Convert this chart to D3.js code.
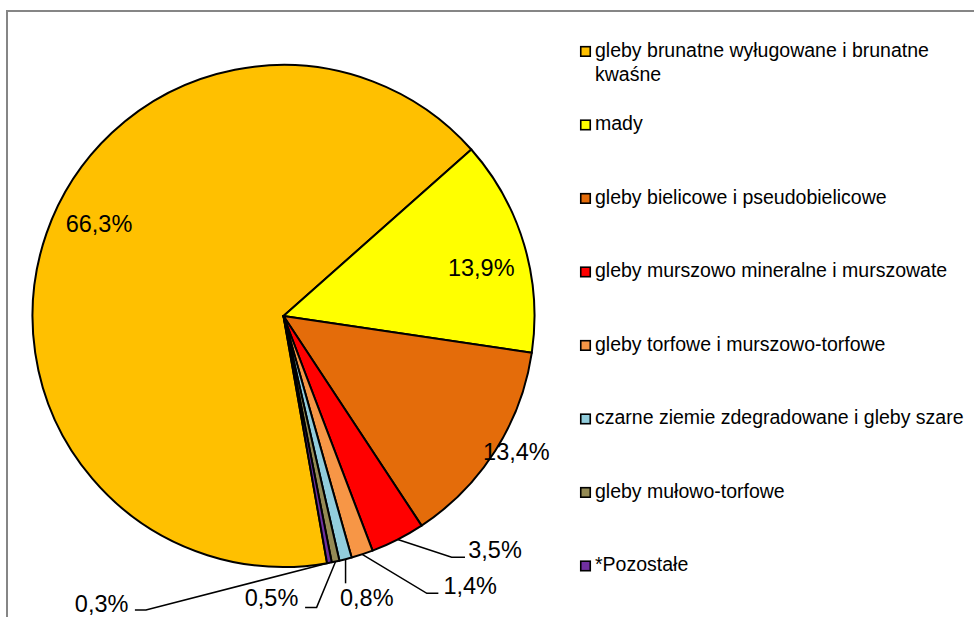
<!DOCTYPE html>
<html>
<head>
<meta charset="utf-8">
<script src="https://cdn.jsdelivr.net/npm/d3@7"></script>
<style>
html,body{margin:0;padding:0;background:#fff;}
svg{display:block;font-family:"Liberation Sans",Arial,sans-serif;}
</style>
</head>
<body>
<svg id="chart" width="974" height="617"></svg>
<script>
// ---- data ----
const categories = [
  "gleby brunatne wyługowane i brunatne kwaśne",
  "mady",
  "gleby bielicowe i pseudobielicowe",
  "gleby murszowo mineralne i murszowate",
  "gleby torfowe i murszowo-torfowe",
  "czarne ziemie zdegradowane i gleby szare",
  "gleby mułowo-torfowe",
  "*Pozostałe"
];
const values = [66.3, 13.9, 13.4, 3.5, 1.4, 0.8, 0.5, 0.3];
const colors = ["#FFC000", "#FFFF00", "#E46C0A", "#FF0000", "#F79646", "#92CDDC", "#948A54", "#7030A0"];
const firstSliceAngleDeg = 170;

// ---- layout (label placement in units of the pie radius, relative to centre) ----
const labelLayout = [
  {inside: true, text: [-0.735, -0.335]},
  {inside: true, text: [0.788, -0.159]},
  {inside: true, text: [0.928, 0.574]},
  {inside: false, text: [0.736, 0.965], anchor: "start", elbow: [0.670, 0.961], end: [0.723, 0.961]},
  {inside: false, text: [0.637, 1.108], anchor: "start", elbow: [0.571, 1.105], end: [0.617, 1.105]},
  {inside: false, text: [0.225, 1.155], anchor: "start", vertical: 1.065},
  {inside: false, text: [0.059, 1.155], anchor: "end", elbow: [0.132, 1.161], end: [0.086, 1.161]},
  {inside: false, text: [-0.618, 1.178], anchor: "end", elbow: [-0.548, 1.171], end: [-0.592, 1.171]}
];

const W = 974, H = 617;
const cx = 283.5, cy = 316, R = 251;
const svg = d3.select("#chart");

// frame
svg.append("rect")
  .attr("x", 7).attr("y", 11).attr("width", 1100).attr("height", 800)
  .attr("fill", "none").attr("stroke", "#868686").attr("stroke-width", 2);

const fmt = v => d3.format(".1f")(v).replace(".", ",") + "%";

const start = firstSliceAngleDeg * Math.PI / 180;
const pie = d3.pie().sort(null).value(d => d.value)
  .startAngle(start).endAngle(start + 2 * Math.PI);
const data = values.map((v, i) => ({value: v, name: categories[i], color: colors[i], layout: labelLayout[i]}));
const arcs = pie(data);
const arc = d3.arc().innerRadius(0).outerRadius(R);

const g = svg.append("g").attr("transform", `translate(${cx},${cy})`);

g.selectAll("path.slice").data(arcs).join("path")
  .attr("class", "slice")
  .attr("d", arc)
  .attr("fill", d => d.data.color)
  .attr("stroke", "#000")
  .attr("stroke-width", 2)
  .attr("stroke-linejoin", "round");

// leader lines
const lineGen = d3.line();
arcs.forEach(a => {
  const L = a.data.layout;
  if (L.inside) return;
  const mid = (a.startAngle + a.endAngle) / 2;
  const p0 = [R * Math.sin(mid), -R * Math.cos(mid)];
  let pts;
  if (L.vertical !== undefined) {
    pts = [p0, [p0[0], L.vertical * R]];
  } else {
    pts = [p0, [L.elbow[0] * R, L.elbow[1] * R], [L.end[0] * R, L.end[1] * R]];
  }
  g.append("path").attr("d", lineGen(pts))
    .attr("fill", "none").attr("stroke", "#000").attr("stroke-width", 1.5);
});

// labels
arcs.forEach(a => {
  const L = a.data.layout;
  g.append("text")
    .attr("x", L.text[0] * R)
    .attr("y", L.text[1] * R)
    .attr("text-anchor", L.inside ? "middle" : L.anchor)
    .attr("font-size", 23.5)
    .attr("fill", "#000")
    .text(fmt(a.data.value));
});

// legend
const legX = 580, legTextX = 595, legY0 = 56.7, legStep = 73.5, legFont = 19.5, maxW = 376;
const leg = svg.append("g");
data.forEach((d, i) => {
  const by = legY0 + i * legStep;
  leg.append("rect")
    .attr("x", legX + 0.75).attr("y", by - 10)
    .attr("width", 9.5).attr("height", 9.5)
    .attr("fill", d.color).attr("stroke", "#000").attr("stroke-width", 1.6);
  const t = leg.append("text")
    .attr("x", legTextX).attr("y", by)
    .attr("font-size", legFont).attr("fill", "#000");
  const words = d.name.split(" ");
  let line = [], lineNo = 0;
  let ts = t.append("tspan").attr("x", legTextX).attr("y", by);
  words.forEach(w => {
    line.push(w);
    ts.text(line.join(" "));
    if (ts.node().getComputedTextLength() > maxW && line.length > 1) {
      line.pop();
      ts.text(line.join(" "));
      line = [w];
      lineNo++;
      ts = t.append("tspan").attr("x", legTextX).attr("y", by + lineNo * 24).text(w);
    }
  });
});
</script>
</body>
</html>
